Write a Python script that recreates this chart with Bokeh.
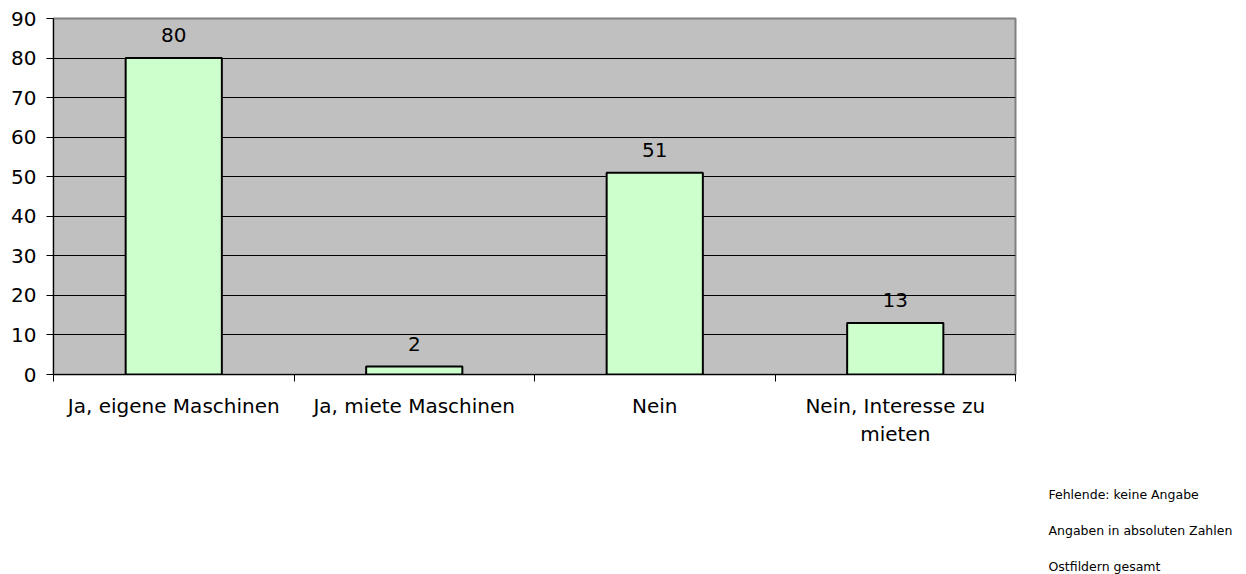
from bokeh.plotting import figure
from bokeh.models import ColumnDataSource, FixedTicker, LabelSet, Range1d, Title
from bokeh.core.properties import value
from bokeh.embed import file_html
from bokeh.resources import INLINE

categories = ["Ja, eigene Maschinen", "Ja, miete Maschinen", "Nein", "Nein, Interesse zu\nmieten"]
values = [80, 2, 51, 13]
y_ticks = [0, 10, 20, 30, 40, 50, 60, 70, 80, 90]
notes = ["Fehlende: keine Angabe", "Angaben in absoluten Zahlen", "Ostfildern gesamt"]

FONT = "DejaVu Sans"

xs = [i + 0.5 for i in range(len(categories))]
src = ColumnDataSource(dict(x=xs, top=values, label=[str(v) for v in values]))

p = figure(width=1246, height=574, output_backend="svg", toolbar_location=None,
           x_range=Range1d(0, len(categories)), y_range=Range1d(0, 90),
           frame_width=962, frame_height=356,
           min_border_left=53, min_border_top=18, min_border_right=231, min_border_bottom=200)
p.background_fill_color = "#C0C0C0"
p.border_fill_color = "white"
p.outline_line_color = "#808080"
p.outline_line_width = 2

p.vbar(x="x", top="top", width=0.4, bottom=0, source=src,
       fill_color="#CCFFCC", line_color="black", line_width=2)

labels = LabelSet(x="x", y="top", text="label", source=src, text_align="center",
                  text_baseline="middle", y_offset=23, text_font=value(FONT),
                  text_font_size="20px", text_color="black")
p.add_layout(labels)

# y axis
p.yaxis.ticker = FixedTicker(ticks=y_ticks)
p.yaxis.axis_line_color = "black"
p.yaxis.major_tick_out = 7
p.yaxis.major_tick_in = 0
p.yaxis.minor_tick_line_color = None
p.yaxis.major_label_text_font = FONT
p.yaxis.major_label_text_font_size = "20px"
p.yaxis.major_label_text_color = "black"
p.yaxis.major_label_standoff = 10

# x axis: labels at centers, ticks at boundaries
p.xaxis.ticker = FixedTicker(ticks=xs, minor_ticks=list(range(len(categories) + 1)))
p.xaxis.major_label_overrides = {x: c for x, c in zip(xs, categories)}
p.xaxis.major_tick_out = 0
p.xaxis.major_tick_in = 0
p.xaxis.minor_tick_out = 7
p.xaxis.minor_tick_in = 0
p.xaxis.minor_tick_line_color = "black"
p.xaxis.axis_line_color = "black"
p.xaxis.major_label_text_font = FONT
p.xaxis.major_label_text_font_size = "20px"
p.xaxis.major_label_text_color = "black"
p.xaxis.major_label_standoff = 12

p.xgrid.grid_line_color = None
p.ygrid.grid_line_color = "black"
p.ygrid.grid_line_width = 1

# invisible spacer between the axis and the notes
p.add_layout(Title(text=" ", align="left", offset=995, standoff=9,
                   text_font=FONT, text_font_size="12.5px",
                   text_font_style="normal", text_color="white"), "below")
for n in notes:
    p.add_layout(Title(text=n, align="left", offset=995, standoff=19,
                       text_font=FONT, text_font_size="12.5px",
                       text_font_style="normal", text_color="black"), "below")

open("out.html", "w").write(file_html(p, INLINE))
